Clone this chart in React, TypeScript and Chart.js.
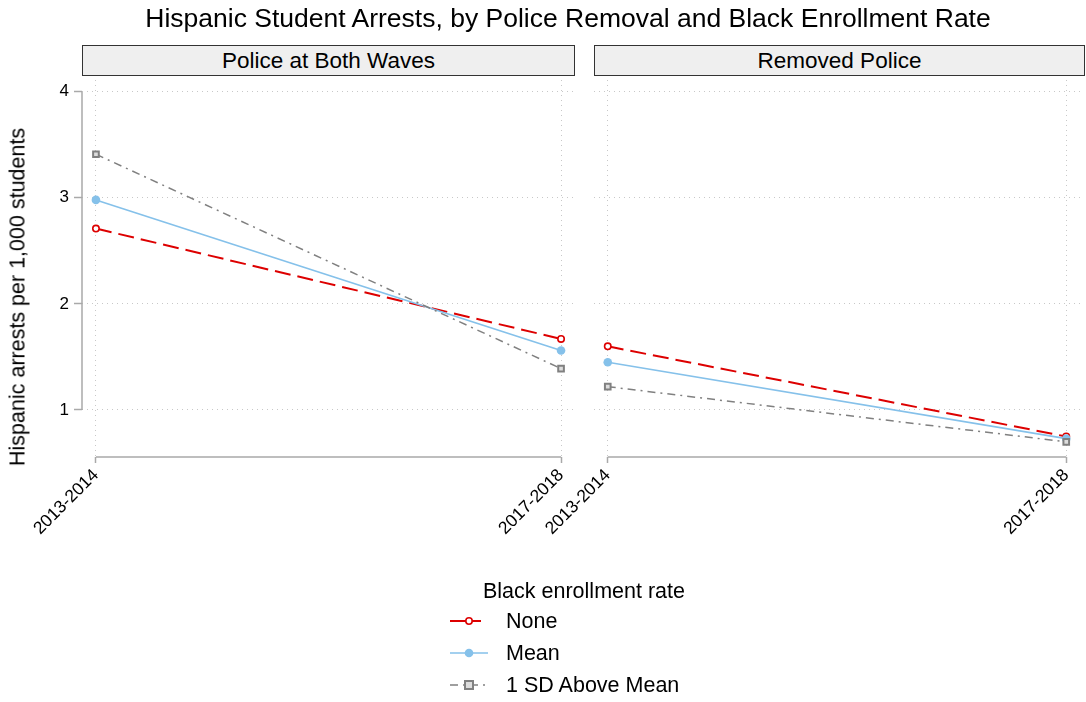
import React, { useEffect, useRef } from "react";
import { Chart, registerables } from "chart.js";

Chart.register(...registerables);

// ---------- data ----------
const periods = ["2013-2014", "2017-2018"];
const seriesNames = ["None", "Mean", "1 SD Above Mean"];
const panelTitles = ["Police at Both Waves", "Removed Police"];
const bothNone = [2.71, 1.67];
const bothMean = [2.98, 1.56];
const bothSD = [3.41, 1.39];
const removedNone = [1.6, 0.75];
const removedMean = [1.45, 0.73];
const removedSD = [1.22, 0.7];
const yTicks = [1, 2, 3, 4];

// ---------- styling ----------
const FONT = "'Liberation Sans', Arial, Helvetica, sans-serif";
const RED = "#dd0000";
const BLUE = "#85c1ea";
const GRAY = "#808080";
const AXIS = "#a9a9a9";
const GRID = "#c8c8c8";
const W = 1086;
const H = 702;
const PLOT_TOP = 80;
const PLOT_BOTTOM = 457;
const LEFT_PANEL = [82, 575];
const RIGHT_PANEL = [594, 1085];
const Y_MIN = 0.557;
const Y_MAX = 4.11;
const X_MIN = -0.03;
const X_MAX = 1.03;

const seriesStyles = [
  { color: RED, width: 2, dash: [16, 7], pointStyle: "circle", radius: 3.2, bg: "#ffffff", bw: 1.6 },
  { color: BLUE, width: 1.6, dash: [], pointStyle: "circle", radius: 4.3, bg: BLUE, bw: 0 },
  { color: GRAY, width: 1.5, dash: [8, 5, 2, 5], pointStyle: "rect", radius: 4, bg: "#dddddd", bw: 2 },
];

const axisLinePlugin = (drawY: boolean) => ({
  id: "axisLines" + (drawY ? "Y" : "N"),
  afterDraw(chart: any) {
    const { ctx, chartArea, scales } = chart;
    const xs = scales.x;
    const ys = scales.y;
    ctx.save();
    ctx.strokeStyle = AXIS;
    ctx.lineWidth = 1.5;
    ctx.setLineDash([]);
    ctx.beginPath();
    ctx.moveTo(xs.getPixelForValue(0), chartArea.bottom);
    ctx.lineTo(xs.getPixelForValue(1), chartArea.bottom);
    if (drawY) {
      ctx.moveTo(chartArea.left, ys.getPixelForValue(yTicks[0]));
      ctx.lineTo(chartArea.left, ys.getPixelForValue(yTicks[yTicks.length - 1]));
    }
    ctx.stroke();
    ctx.restore();
  },
});

function buildChart(canvas: HTMLCanvasElement, values: number[][], isLeft: boolean) {
  const datasets = values.map((vals, si) => {
    const s = seriesStyles[si];
    return {
      label: seriesNames[si],
      data: vals.map((v, i) => ({ x: i, y: v })),
      borderColor: s.color,
      borderWidth: s.width,
      borderDash: s.dash,
      pointStyle: s.pointStyle,
      pointRadius: s.radius,
      pointBackgroundColor: s.bg,
      pointBorderColor: s.color,
      pointBorderWidth: s.bw,
      fill: false,
      tension: 0,
      order: 3 - si,
    };
  });
  return new Chart(canvas, {
    type: "line",
    data: { datasets },
    plugins: [axisLinePlugin(isLeft)],
    options: {
      animation: false,
      responsive: false,
      devicePixelRatio: 1,
      layout: {
        padding: {
          top: PLOT_TOP,
          left: 0,
          right: isLeft ? W - LEFT_PANEL[1] : W - RIGHT_PANEL[1],
          bottom: 0,
        },
      },
      plugins: { legend: { display: false }, tooltip: { enabled: false }, title: { display: false } },
      scales: {
        x: {
          type: "linear",
          min: X_MIN,
          max: X_MAX,
          afterBuildTicks: (s: any) => {
            s.ticks = periods.map((_, i) => ({ value: i }));
          },
          afterFit: (s: any) => {
            s.height = H - PLOT_BOTTOM;
          },
          ticks: {
            callback: (v: any) => periods[v] ?? "",
            minRotation: 45,
            maxRotation: 45,
            color: "#000",
            padding: 2,
            font: { family: FONT, size: 17.5 },
          },
          grid: {
            color: GRID,
            lineWidth: 1,
            tickColor: AXIS,
            tickLength: 6,
            tickWidth: 1.5,
            tickBorderDash: [],
          },
          border: { display: false, dash: [1, 4] },
        },
        y: {
          type: "linear",
          min: Y_MIN,
          max: Y_MAX,
          afterBuildTicks: (s: any) => {
            s.ticks = yTicks.map((v) => ({ value: v }));
          },
          afterFit: (s: any) => {
            s.width = isLeft ? LEFT_PANEL[0] : RIGHT_PANEL[0];
          },
          ticks: {
            display: isLeft,
            color: "#000",
            padding: 5,
            font: { family: FONT, size: 17 },
            callback: (v: any) => String(v),
          },
          grid: {
            color: GRID,
            lineWidth: 1,
            drawTicks: isLeft,
            tickColor: AXIS,
            tickLength: 8,
            tickWidth: 1.5,
            tickBorderDash: [],
          },
          border: { display: false, dash: [1, 4] },
        },
      },
    },
  } as any);
}

const LegendRow = ({ si, y }: { si: number; y: number }) => {
  const s = seriesStyles[si];
  const cx = 469;
  return (
    <>
      <line
        x1={450}
        x2={488}
        y1={y}
        y2={y}
        stroke={s.color}
        strokeWidth={s.width}
        strokeDasharray={si === 0 ? "31 9" : s.dash.length ? s.dash.join(" ") : undefined}
      />
      {s.pointStyle === "circle" ? (
        <circle cx={cx} cy={y} r={s.radius} fill={s.bg} stroke={s.color} strokeWidth={s.bw} />
      ) : (
        <rect x={cx - s.radius} y={y - s.radius} width={s.radius * 2} height={s.radius * 2} fill={s.bg} stroke={s.color} strokeWidth={s.bw} />
      )}
    </>
  );
};

export default function App() {
  const leftRef = useRef<HTMLCanvasElement>(null);
  const rightRef = useRef<HTMLCanvasElement>(null);

  useEffect(() => {
    document.body.style.margin = "0";
    const c1 = buildChart(leftRef.current!, [bothNone, bothMean, bothSD], true);
    const c2 = buildChart(rightRef.current!, [removedNone, removedMean, removedSD], false);
    return () => {
      c1.destroy();
      c2.destroy();
    };
  }, []);

  const legendRows = [621, 653, 685];

  return (
    <div style={{ position: "relative", width: W, height: H, background: "#fff", fontFamily: FONT, color: "#000", overflow: "hidden" }}>
      <canvas ref={leftRef} width={W} height={H} style={{ position: "absolute", left: 0, top: 0 }} />
      <canvas ref={rightRef} width={W} height={H} style={{ position: "absolute", left: 0, top: 0 }} />
      <div style={{ position: "absolute", left: 568, top: 18, transform: "translate(-50%,-50%)", fontSize: 26.5, whiteSpace: "nowrap" }}>
        Hispanic Student Arrests, by Police Removal and Black Enrollment Rate
      </div>
      {[LEFT_PANEL, RIGHT_PANEL].map((p, i) => (
        <div
          key={i}
          style={{
            position: "absolute",
            left: p[0],
            top: 45,
            width: p[1] - p[0],
            height: 31,
            boxSizing: "border-box",
            border: "1.5px solid #333",
            background: "#efefef",
            display: "flex",
            alignItems: "center",
            justifyContent: "center",
            fontSize: 22.5,
            whiteSpace: "nowrap",
          }}
        >
          {panelTitles[i]}
        </div>
      ))}
      <div style={{ position: "absolute", left: 18, top: 297, transform: "translate(-50%,-50%) rotate(-90deg)", fontSize: 21.5, whiteSpace: "nowrap" }}>
        Hispanic arrests per 1,000 students
      </div>
      <div style={{ position: "absolute", left: 483, top: 591, transform: "translateY(-50%)", fontSize: 21.5, whiteSpace: "nowrap" }}>
        Black enrollment rate
      </div>
      <svg width={W} height={H} style={{ position: "absolute", left: 0, top: 0, pointerEvents: "none" }}>
        {legendRows.map((y, i) => (
          <LegendRow key={i} si={i} y={y} />
        ))}
      </svg>
      {legendRows.map((y, i) => (
        <div key={i} style={{ position: "absolute", left: 506, top: y, transform: "translateY(-50%)", fontSize: 21.5, whiteSpace: "nowrap" }}>
          {seriesNames[i]}
        </div>
      ))}
    </div>
  );
}
